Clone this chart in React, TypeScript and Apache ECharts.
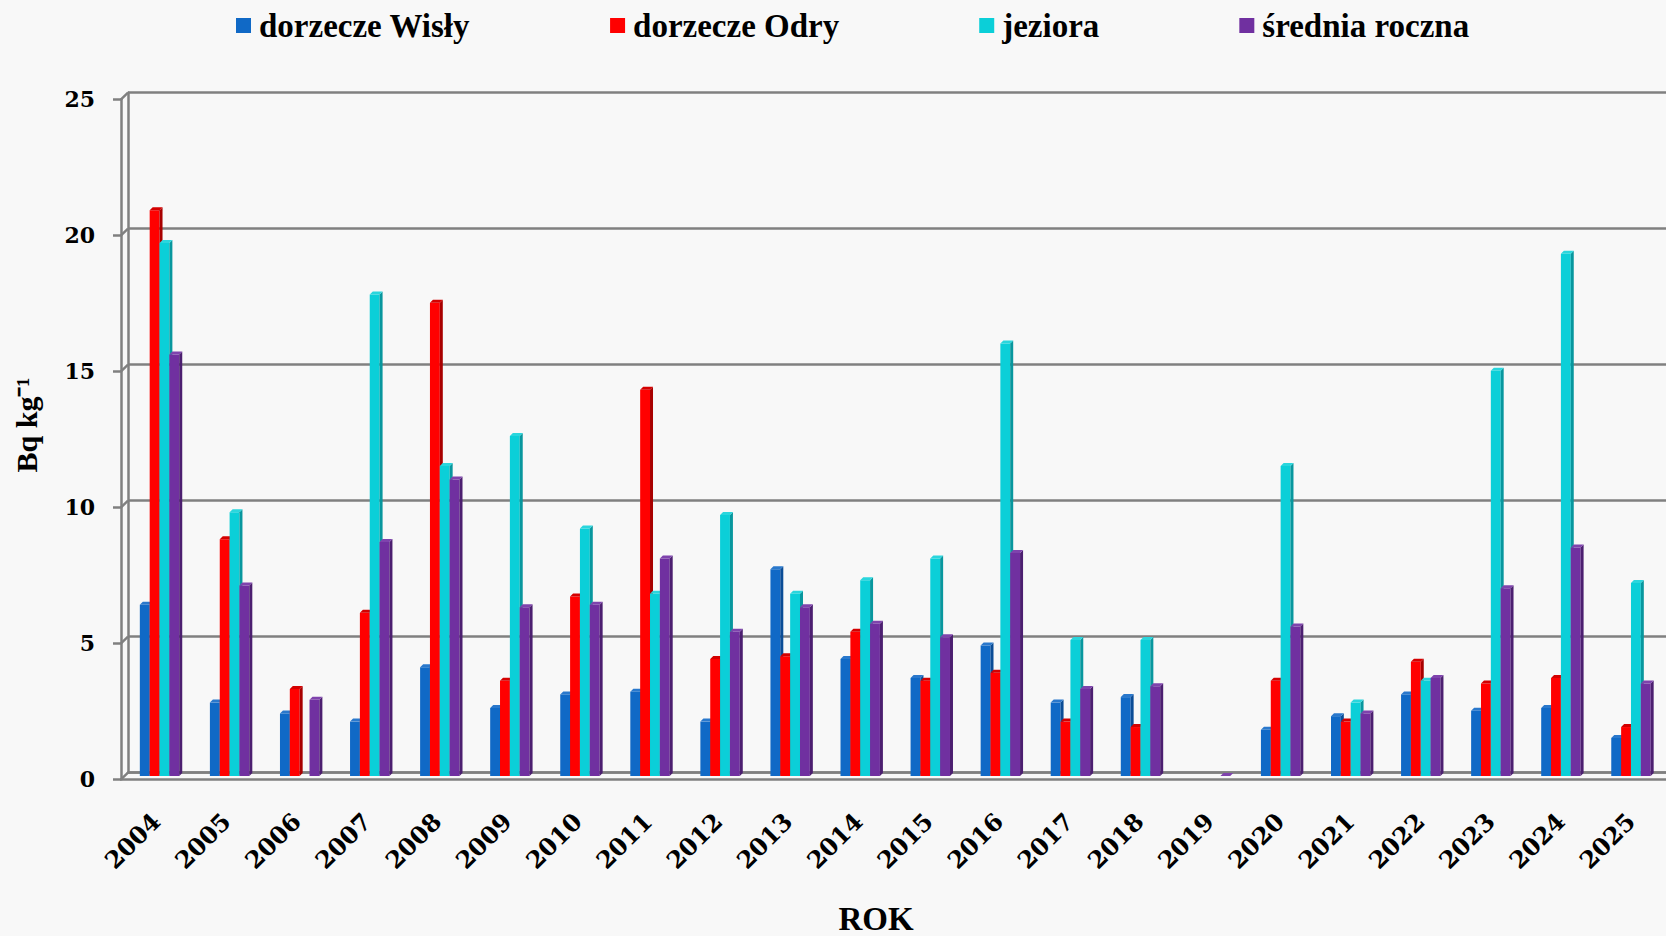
import React, { useEffect, useRef } from "react";
import * as echarts from "echarts";

const years = [
  "2004", "2005", "2006", "2007", "2008", "2009", "2010", "2011", "2012", "2013", "2014",
  "2015", "2016", "2017", "2018", "2019", "2020", "2021", "2022", "2023", "2024", "2025",
];
const wisla = [6.3, 2.7, 2.3, 2.0, 4.0, 2.5, 3.0, 3.1, 2.0, 7.6, 4.3, 3.6, 4.8, 2.7, 2.9, null, 1.7, 2.2, 3.0, 2.4, 2.5, 1.4];
const odra = [20.8, 8.7, 3.2, 6.0, 17.4, 3.5, 6.6, 14.2, 4.3, 4.4, 5.3, 3.5, 3.8, 2.0, 1.8, null, 3.5, 2.0, 4.2, 3.4, 3.6, 1.8];
const jeziora = [19.6, 9.7, null, 17.7, 11.4, 12.5, 9.1, 6.7, 9.6, 6.7, 7.2, 8.0, 15.9, 5.0, 5.0, null, 11.4, 2.7, 3.5, 14.9, 19.2, 7.1];
const srednia = [15.5, 7.0, 2.8, 8.6, 10.9, 6.2, 6.3, 8.0, 5.3, 6.2, 5.6, 5.1, 8.2, 3.2, 3.3, 0, 5.5, 2.3, 3.6, 6.9, 8.4, 3.4];
const yTicks = [0, 5, 10, 15, 20, 25];
const seriesNames = ["dorzecze Wisły", "dorzecze Odry", "jeziora", "średnia roczna"];
const seriesValues = [wisla, odra, jeziora, srednia];
const frontColors = ["#1069c6", "#ff0000", "#0bcfd8", "#7030a0"];
const sideColors = ["#0a4c96", "#a80000", "#08979e", "#4c1f70"];
const topColors = ["#2a78cc", "#d40000", "#2ad6dd", "#7f43ad"];

const GRID_LINE = "#808080";

function makeBarRender(k: number) {
  return (params: any, api: any) => {
    const v = api.value(1);
    if (v === null || v === undefined || isNaN(v)) return null;
    const idx = api.value(0);
    const top = api.coord([idx, v]);
    const base = api.coord([idx, 0]);
    const band = api.size([1, 0])[0];
    const bw = band * 0.1406;
    const x0 = top[0] - 2 * bw + k * bw;
    const d = 3;
    const h = base[1] - top[1];
    return {
      type: "group",
      children: [
        { type: "rect", shape: { x: x0, y: top[1], width: bw, height: h }, style: { fill: frontColors[k] } },
        {
          type: "polygon",
          shape: { points: [[x0 + bw, top[1]], [x0 + bw + d, top[1] - d], [x0 + bw + d, base[1] - d], [x0 + bw, base[1]]] },
          style: { fill: sideColors[k] },
        },
        {
          type: "polygon",
          shape: { points: [[x0, top[1]], [x0 + d, top[1] - d], [x0 + bw + d, top[1] - d], [x0 + bw, top[1]]] },
          style: { fill: topColors[k] },
        },
      ],
    };
  };
}

function connectorRender(params: any, api: any) {
  const p = api.coord([0, api.value(1)]);
  const x0 = params.coordSys.x;
  return {
    type: "line",
    shape: { x1: x0, y1: p[1], x2: x0 + 7, y2: p[1] - 6.6 },
    style: { stroke: GRID_LINE, lineWidth: 2.5 },
  };
}

export default function App() {
  const ref = useRef<HTMLDivElement>(null);
  useEffect(() => {
    if (!ref.current) return;
    const chart = echarts.init(ref.current, null, { renderer: "svg" });
    const hiddenCat = (gridIndex: number, showLine: boolean) => ({
      type: "category",
      gridIndex,
      data: years,
      boundaryGap: true,
      axisLine: { show: showLine, lineStyle: { color: GRID_LINE, width: 2.5 } },
      axisTick: { show: false },
      axisLabel: { show: false },
      splitLine: { show: false },
    });
    const barSeries = seriesNames.map((name, k) => ({
      type: "custom",
      name,
      xAxisIndex: 2,
      yAxisIndex: 2,
      itemStyle: { color: frontColors[k] },
      encode: { x: 0, y: 1 },
      renderItem: makeBarRender(k),
      data: seriesValues[k]
        .map((v, i) => (v === null ? null : [i, v]))
        .filter((x) => x !== null),
      z: 3,
    }));
    const option: any = {
      animation: false,
      backgroundColor: "#f8f8f8",
      legend: {
        data: seriesNames,
        left: 231,
        top: 4,
        icon: "rect",
        itemWidth: 15,
        itemHeight: 15,
        itemGap: 140,
        textStyle: {
          fontFamily: "Liberation Serif",
          fontWeight: "bold",
          fontSize: 33,
          color: "#000",
          padding: [0, 0, 0, 3],
        },
      },
      grid: [
        { left: 121, right: -3.8, top: 99.3, bottom: 156.7 },
        { left: 128, right: -10.8, top: 92.7, bottom: 163.3 },
        { left: 124.5, right: -7.3, top: 96, bottom: 160 },
      ],
      xAxis: [
        {
          type: "category",
          gridIndex: 0,
          data: years,
          axisLine: { show: true, lineStyle: { color: GRID_LINE, width: 2.5 } },
          axisTick: { show: false },
          axisLabel: {
            interval: 0,
            rotate: 45,
            margin: 38,
            color: "#000",
            fontFamily: "DejaVu Serif",
            fontWeight: "bold",
            fontSize: 24,
          },
          splitLine: { show: false },
        },
        hiddenCat(1, true),
        hiddenCat(2, false),
      ],
      yAxis: [
        {
          type: "value",
          gridIndex: 0,
          min: 0,
          max: 25,
          interval: 5,
          axisLine: { show: true, lineStyle: { color: GRID_LINE, width: 2.5 } },
          axisTick: { show: true, length: 8, lineStyle: { color: GRID_LINE, width: 2.5 } },
          axisLabel: {
            margin: 26,
            color: "#000",
            fontFamily: "DejaVu Serif",
            fontWeight: "bold",
            fontSize: 22,
          },
          splitLine: { show: false },
        },
        {
          type: "value",
          gridIndex: 1,
          min: 0,
          max: 25,
          interval: 5,
          axisLine: { show: true, lineStyle: { color: GRID_LINE, width: 2.5 } },
          axisTick: { show: false },
          axisLabel: { show: false },
          splitLine: { show: true, lineStyle: { color: GRID_LINE, width: 2.5 } },
        },
        {
          type: "value",
          gridIndex: 2,
          min: 0,
          max: 25,
          interval: 5,
          axisLine: { show: false },
          axisTick: { show: false },
          axisLabel: { show: false },
          splitLine: { show: false },
        },
      ],
      graphic: [
        {
          type: "text",
          x: 26,
          y: 425,
          rotation: Math.PI / 2,
          style: {
            text: "Bq kg⁻¹",
            textAlign: "center",
            textVerticalAlign: "middle",
            font: "bold 30px 'Liberation Serif'",
            fill: "#000",
          },
        },
        {
          type: "text",
          x: 876,
          y: 919,
          style: {
            text: "ROK",
            textAlign: "center",
            textVerticalAlign: "middle",
            font: "bold 33px 'Liberation Serif'",
            fill: "#000",
          },
        },
      ],
      series: [
        {
          type: "custom",
          name: "connectors",
          xAxisIndex: 0,
          yAxisIndex: 0,
          encode: { x: 0, y: 1 },
          renderItem: connectorRender,
          data: yTicks.map((t) => [0, t]),
          silent: true,
          z: 1,
        },
        ...barSeries,
      ],
    };
    chart.setOption(option);
    return () => chart.dispose();
  }, []);
  return (
    <div
      ref={ref}
      style={{ position: "fixed", left: 0, top: 0, width: 1666, height: 936, overflow: "hidden" }}
    />
  );
}
